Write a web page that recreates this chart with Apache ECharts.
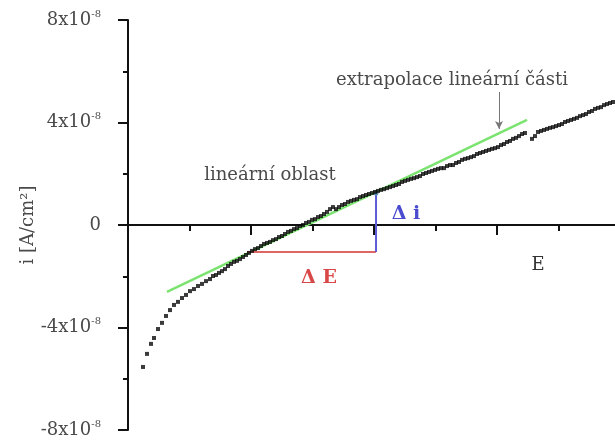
<!DOCTYPE html>
<html>
<head>
<meta charset="utf-8">
<script src="https://cdn.jsdelivr.net/npm/echarts@6/dist/echarts.min.js"></script>
<style>html,body{margin:0;padding:0;background:#fff}#c{width:615px;height:444px}</style>
</head>
<body>
<div id="c"></div>
<script>
// Potential E (arbitrary units: one unit = one minor tick) and current density i (x10^-8 A/cm2)
const potentialE = [0.244,0.309,0.374,0.423,0.488,0.553,0.618,0.683,0.748,0.813,0.878,0.943,1.008,1.073,1.138,1.203,1.268,1.333,
1.382,1.431,1.480,1.528,1.577,1.626,1.675,1.724,1.772,1.821,1.870,1.919,1.967,2.016,2.065,2.114,2.163,2.211,2.260,2.309,2.358,2.407,2.455,2.504,2.553,2.602,2.650,2.699,2.748,2.797,2.846,2.894,2.943,2.992,3.041,3.089,3.138,3.187,3.236,3.285,3.333,3.382,3.431,3.480,3.528,3.577,3.626,3.675,3.724,3.772,3.821,3.870,3.919,3.967,4.016,4.065,4.114,4.163,4.211,4.260,4.309,4.358,4.407,4.455,4.504,4.553,4.602,4.650,4.699,4.748,4.797,4.846,4.894,4.943,4.992,5.041,5.089,5.138,5.187,5.236,5.285,5.333,5.382,5.431,5.480,5.528,5.577,5.626,5.675,5.724,5.772,5.821,5.870,5.919,5.967,6.016,6.065,6.114,6.163,6.211,6.260,6.309,6.358,6.407,6.455,
6.569,6.618,6.667,6.715,6.764,6.813,6.862,6.911,6.959,7.008,7.057,7.106,7.154,7.203,7.252,7.301,7.350,7.398,7.447,7.496,7.545,7.593,7.642,7.691,7.740,7.789,7.837,7.886];
const currentI = [-5.54,-5.03,-4.64,-4.41,-4.06,-3.82,-3.55,-3.32,-3.12,-3.00,-2.85,-2.73,-2.58,-2.50,-2.38,-2.30,-2.19,-2.11,
-1.99,-1.95,-1.87,-1.80,-1.72,-1.60,-1.52,-1.44,-1.40,-1.33,-1.25,-1.17,-1.09,-1.01,-0.94,-0.90,-0.82,-0.74,-0.70,-0.66,-0.59,-0.55,-0.47,-0.43,-0.35,-0.27,-0.23,-0.16,-0.12,-0.04,0.00,0.08,0.12,0.20,0.23,0.31,0.35,0.43,0.51,0.62,0.70,0.62,0.70,0.78,0.82,0.90,0.94,0.98,1.01,1.09,1.13,1.17,1.21,1.25,1.29,1.33,1.37,1.40,1.44,1.48,1.52,1.56,1.60,1.68,1.72,1.76,1.80,1.83,1.87,1.91,1.99,2.03,2.07,2.11,2.15,2.19,2.22,2.22,2.30,2.34,2.34,2.42,2.46,2.54,2.58,2.61,2.65,2.69,2.77,2.81,2.85,2.89,2.93,2.97,3.00,3.04,3.12,3.16,3.24,3.28,3.36,3.40,3.47,3.55,3.59,
3.36,3.47,3.63,3.67,3.71,3.75,3.79,3.82,3.86,3.90,3.94,4.02,4.06,4.10,4.14,4.18,4.25,4.29,4.33,4.41,4.45,4.53,4.57,4.60,4.68,4.72,4.76,4.80];

// linear fit (extrapolation) endpoints
const fitE = [0.634, 6.488];
const fitI = [-2.61, 4.10];
// Delta E (horizontal) and Delta i (vertical) construction
const deltaE_E = [1.935, 4.033];
const deltaE_I = -1.05;
const deltaI_E = 4.033;
const deltaI_I = [-1.05, 1.25];
// arrow pointing at the extrapolated line
const arrowE = 6.033;
const arrowI = [5.19, 3.75];

const yTicks = [-8, -4, 0, 4, 8];

const measured = potentialE.map((e, k) => [e, currentI[k]]);

const serif = '"DejaVu Serif", "Liberation Serif", serif';
const grayText = '#4a4a4a';

const chart = echarts.init(document.getElementById('c'), null, {renderer: 'canvas'});
chart.setOption({
  backgroundColor: '#fff',
  animation: false,
  grid: {left: 128, right: -5, top: 20, bottom: 14, containLabel: false, outerBoundsMode: 'none'},
  xAxis: {
    type: 'value', min: 0, max: 8, interval: 2,
    axisLine: {onZero: true, lineStyle: {color: '#111', width: 2}},
    axisTick: {show: true, length: 10, lineStyle: {color: '#111', width: 2}},
    minorTick: {show: true, splitNumber: 2, length: 6, lineStyle: {color: '#111', width: 2}},
    axisLabel: {show: false},
    splitLine: {show: false}
  },
  yAxis: {
    type: 'value', min: yTicks[0], max: yTicks[yTicks.length - 1], interval: 4,
    name: 'i [A/cm²]', nameLocation: 'middle', nameGap: 91, nameRotate: 90,
    nameMoveOverlap: false,
    nameTextStyle: {fontFamily: serif, fontSize: 18, color: grayText},
    axisLine: {lineStyle: {color: '#111', width: 2}},
    axisTick: {show: true, length: 10, lineStyle: {color: '#111', width: 2}},
    minorTick: {show: true, splitNumber: 2, length: 5, lineStyle: {color: '#111', width: 2}},
    splitLine: {show: false},
    axisLabel: {
      margin: 27,
      formatter: v => v === 0 ? '{b|0}' : '{b|' + v + 'x10}{s|-8}',
      rich: {
        b: {fontFamily: serif, fontSize: 18, color: grayText, lineHeight: 22},
        s: {fontFamily: serif, fontSize: 10, color: grayText, verticalAlign: 'top', lineHeight: 12, padding: [0, 0, 10, 0]}
      }
    }
  },
  series: [
    {
      name: 'fit', type: 'line', z: 2, silent: true, symbol: 'none',
      data: fitE.map((e, k) => [e, fitI[k]]),
      lineStyle: {color: '#7be36f', width: 2.5},
      markLine: {
        silent: true, symbol: ['none', 'arrow'], symbolSize: [6, 8],
        label: {show: false},
        lineStyle: {color: '#777', width: 1, type: 'solid'},
        data: [[{coord: [arrowE, arrowI[0]]}, {coord: [arrowE, arrowI[1]]}]]
      }
    },
    {
      name: 'dE', type: 'line', z: 2, silent: true, symbol: 'none',
      data: deltaE_E.map(e => [e, deltaE_I]),
      lineStyle: {color: '#e06666', width: 2}
    },
    {
      name: 'di', type: 'line', z: 2, silent: true,
      data: [
        {value: [deltaI_E, deltaI_I[0]], symbol: 'none'},
        {value: [deltaI_E, deltaI_I[1]], symbol: 'circle', symbolSize: 5}
      ],
      itemStyle: {color: '#5a8fb0'},
      lineStyle: {color: '#5b5bd6', width: 2}
    },
    {
      name: 'measured', type: 'scatter', z: 3, silent: true,
      symbol: 'rect', symbolSize: [4, 4],
      itemStyle: {color: '#0a0a0a'},
      data: measured
    }
  ],
  graphic: [
    {type: 'text', x: 452, y: 80, style: {text: 'extrapolace lineární části', font: '18px ' + serif, fill: grayText, align: 'center', verticalAlign: 'middle'}},
    {type: 'text', x: 270, y: 175, style: {text: 'lineární oblast', font: '18px ' + serif, fill: grayText, align: 'center', verticalAlign: 'middle'}},
    {type: 'text', x: 319, y: 278, style: {text: 'Δ E', font: 'bold 19px ' + serif, fill: '#d94848', align: 'center', verticalAlign: 'middle'}},
    {type: 'text', x: 406, y: 214, style: {text: 'Δ i', font: 'bold 19px ' + serif, fill: '#4b4bd0', align: 'center', verticalAlign: 'middle'}},
    {type: 'text', x: 538, y: 265, style: {text: 'E', font: '18px ' + serif, fill: '#333', align: 'center', verticalAlign: 'middle'}}
  ]
});
</script>
</body>
</html>
